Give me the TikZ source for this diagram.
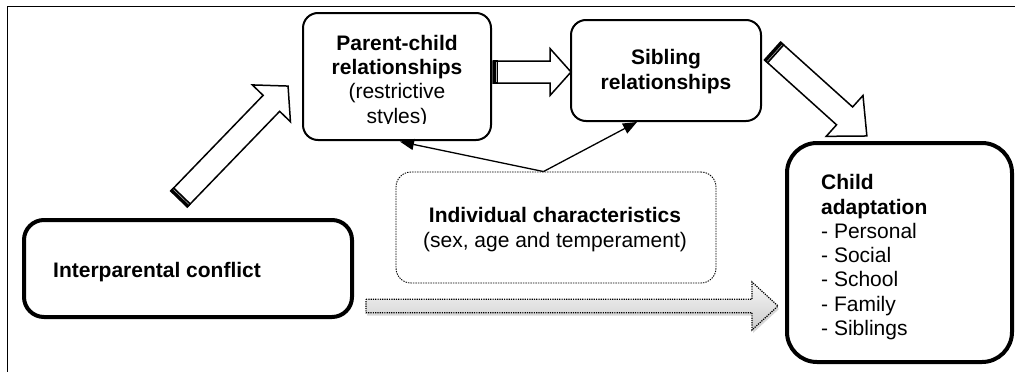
\documentclass[tikz,border=0pt]{standalone}
\usepackage{fontspec}
\setmainfont{Liberation Sans}
\usetikzlibrary{arrows.meta,shadows}
\newcommand{\hollowarrow}[7]{%
  \begin{scope}[shift={#2},rotate=#3]
    \path[#1] (0,-#5) -- ({#4-#7},-#5) -- ({#4-#7},-#6) -- (#4,0) -- ({#4-#7},#6) -- ({#4-#7},#5) -- (0,#5) -- cycle;
  \end{scope}}
\newcommand{\tailcap}[3]{%
  \begin{scope}[shift={#1},rotate=#2]
    \draw[line width=5pt] (2.5,{-#3-0.7}) -- (2.5,{#3+0.7});
    \draw[gray!60, line width=0.5pt] (3,{-#3+1}) -- (3,{#3-1});
  \end{scope}}
\begin{document}
\begin{tikzpicture}[x=1pt,y=-1pt,
  txt/.style={inner sep=0pt, font=\fontsize{21}{24.3}\selectfont},
  thinbox/.style={draw, line width=2pt, rounded corners=15pt, fill=white, inner sep=0pt},
  thickbox/.style={draw, line width=4pt, fill=white, inner sep=0pt},
  dotbox/.style={draw, line width=0.9pt, dash pattern=on 1.4pt off 1.1pt, rounded corners=15pt, inner sep=0pt},
  hollow/.style={draw, line width=1.5pt, fill=white, line join=miter},
  dotarrow/.style={draw, line width=1.2pt, dash pattern=on 1.2pt off 1.1pt, top color=gray!6, bottom color=gray!40,
     drop shadow={opacity=0.3, shadow xshift=1pt, shadow yshift=-3pt, fill=gray}},
  thinarr/.style={line width=1.3pt, -{Triangle[length=14pt,width=11pt]}}
]
\useasboundingbox (0,0) rectangle (1015,372);
\fill[white] (0,0) rectangle (1015,372);
% frame
\draw[line width=1pt] (7,380) -- (7,6) -- (1030,6);

% boxes
\node[thinbox, minimum width=188pt, minimum height=127pt] (pc) at (397,76.5) {};
\begin{scope}
  \clip (300,10) rectangle (495,123.5);
  \node[txt, align=center] (pctext) at (397,81.2) {\textbf{Parent-child}\\\textbf{relationships}\\(restrictive\\styles)};
\end{scope}
\node[thinbox, minimum width=190pt, minimum height=101pt] (sib) at (666,70.5) {};
\node[txt, align=center] (sibtext) at (666,71.7) {\textbf{Sibling}\\\textbf{relationships}};
\node[thickbox, rounded corners=30pt, minimum width=225pt, minimum height=219pt] (child) at (899.5,252.5) {};
\node[txt, align=left, anchor=west] (childtext) at (821,257.2) {\textbf{Child}\\\textbf{adaptation}\\- Personal\\- Social\\- School\\- Family\\- Siblings};
\node[thickbox, rounded corners=20pt, minimum width=328pt, minimum height=97pt] (ipc) at (188,268.5) {};
\node[txt, anchor=west] (ipctext) at (53,271.7) {\textbf{Interparental conflict}};
\node[dotbox, minimum width=320pt, minimum height=111pt] (ind) at (556,227.5) {};
\node[txt, align=center] (indtext) at (555,229.5) {\textbf{Individual characteristics}\\(sex, age and temperament)};

% thin arrows
\coordinate (indtop) at ([xshift=-12.5pt]ind.north);
\draw[thinarr, shorten >=3pt] (indtop) -- (pc.south);
\draw[thinarr] (indtop) -- ([xshift=-29pt]sib.south);

% hollow block arrows
\hollowarrow{hollow}{(179,199)}{46}{157}{11.5}{26.5}{24}
\tailcap{(179,199)}{46}{11.5}
\hollowarrow{hollow}{(493,72)}{0}{78}{11}{23.5}{21}
\tailcap{(493,72)}{0}{11}
\hollowarrow{hollow}{(772.5,51)}{-42}{127}{12}{27.5}{30}
\tailcap{(772.5,51)}{-42}{12}

% dotted gray arrow
\hollowarrow{dotarrow}{(366,306)}{0}{412}{6.7}{24}{26}
\end{tikzpicture}
\end{document}
